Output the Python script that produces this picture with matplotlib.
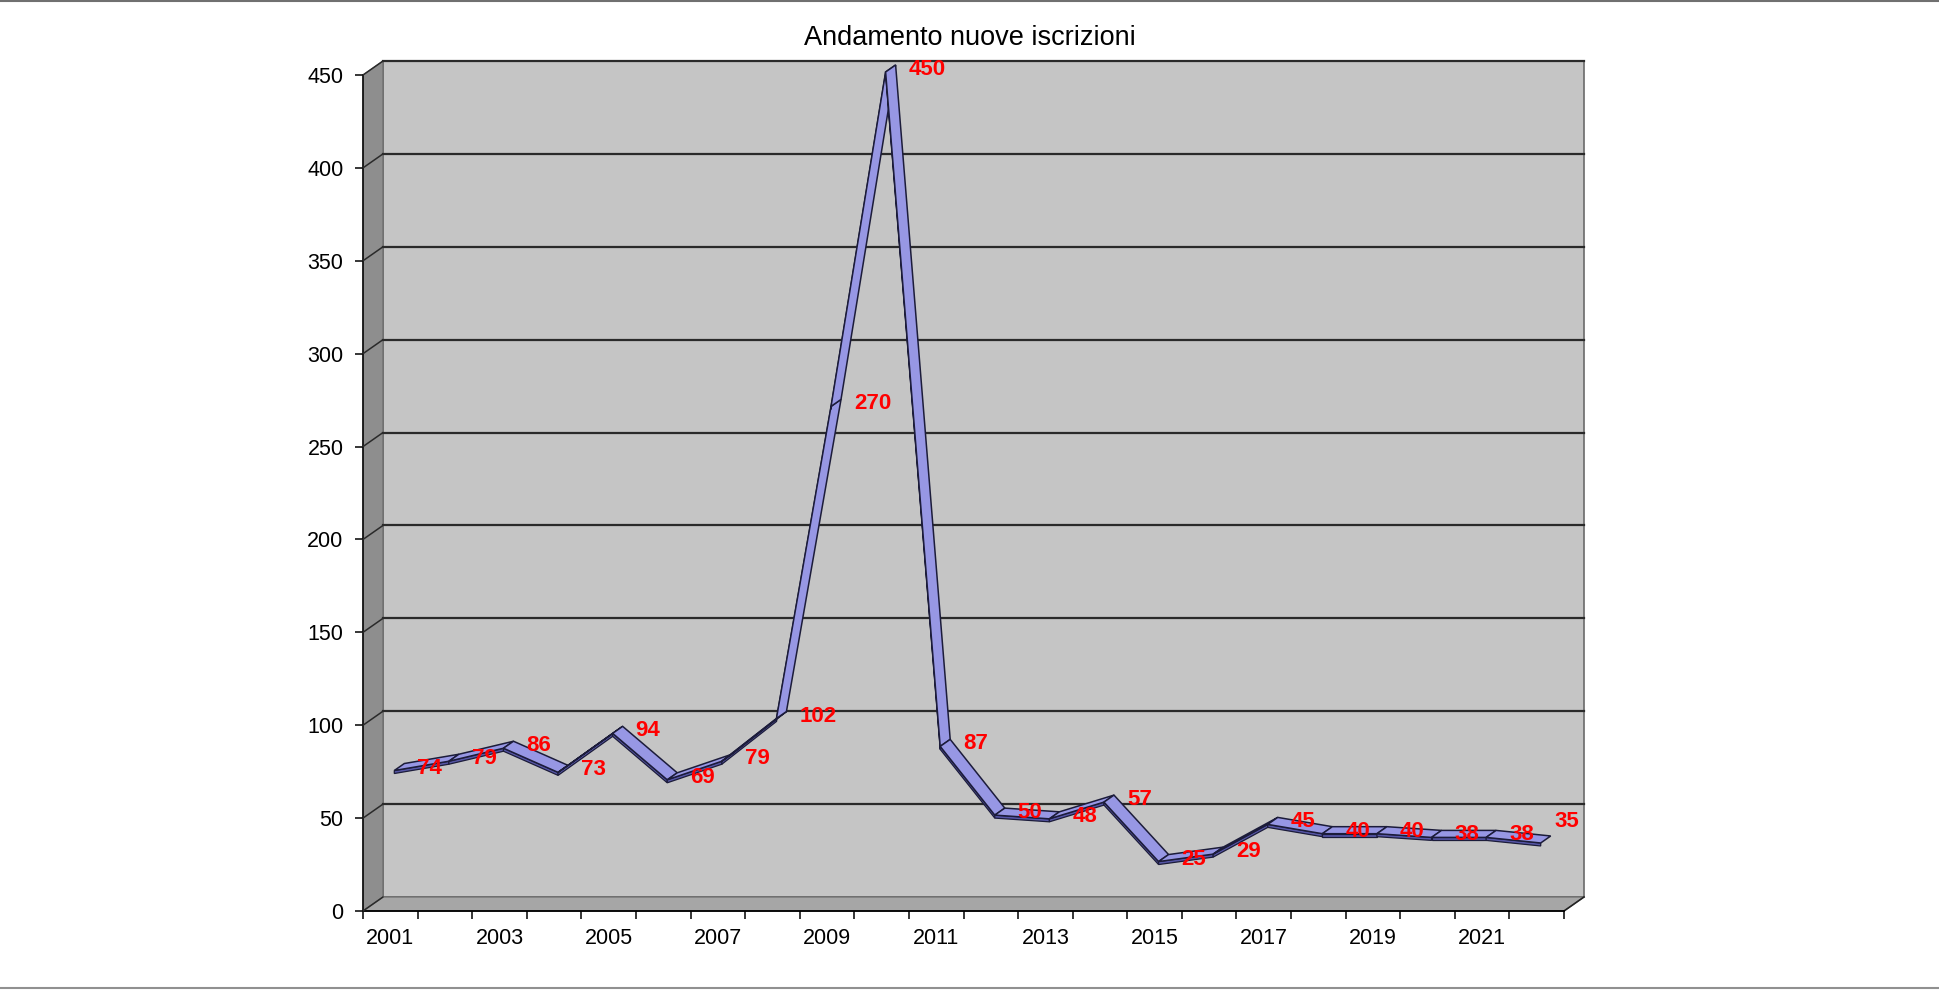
import matplotlib
matplotlib.use('Agg')
import matplotlib.pyplot as plt
import numpy as np
from matplotlib.patches import Polygon, Rectangle
from matplotlib.lines import Line2D
from matplotlib.transforms import ScaledTranslation, IdentityTransform

plt.rcParams['font.family'] = ['Liberation Sans', 'DejaVu Sans']

# data
years = [str(y) for y in range(2001, 2023)]
iscrizioni = [74, 79, 86, 73, 94, 69, 79, 102, 270, 450, 87,
              50, 48, 57, 25, 29, 45, 40, 40, 38, 38, 35]
yticks = list(range(0, 451, 50))
title = 'Andamento nuove iscrizioni'

fig = plt.figure(figsize=(19.39, 9.9), dpi=100)
ax = fig.add_axes([363 / 1939, 1 - 911 / 990, (1564 - 363) / 1939, (911 - 75) / 990])
ax.set_xlim(0, len(years))
ax.set_ylim(0, 450)
ax.patch.set_visible(False)

# 3d depth of the walls, in pixels
DX, DY = 20, 14
depth = ScaledTranslation(DX / 100, DY / 100, fig.dpi_scale_trans)
ident = IdentityTransform()

# back wall
ax.add_patch(Rectangle((0, 0), 1, 1, transform=ax.transAxes + depth,
                       facecolor='#c5c5c5', edgecolor='#6a6a6a', lw=1.2,
                       zorder=0, clip_on=False))

# left wall and floor
p00 = ax.transAxes.transform((0, 0))
p01 = ax.transAxes.transform((0, 1))
p10 = ax.transAxes.transform((1, 0))
off = np.array([DX, DY])
ax.add_patch(Polygon([p00, p01, p01 + off, p00 + off], closed=True,
                     transform=ident, facecolor='#8e8e8e',
                     edgecolor='#6a6a6a', lw=0.8, zorder=0.5, clip_on=False))
ax.add_patch(Polygon([p00, p10, p10 + off, p00 + off], closed=True,
                     transform=ident, facecolor='#a6a6a6',
                     edgecolor='#6a6a6a', lw=0.8, zorder=0.5, clip_on=False))
ax.add_line(Line2D([p10[0], p10[0] + DX], [p10[1], p10[1] + DY],
                   transform=ident, color='#222222', lw=1.2, clip_on=False))

# gridlines on back wall and diagonals on side wall
for v in yticks:
    if v > 0:
        ax.plot([0, 1], [v, v], transform=ax.get_yaxis_transform() + depth,
                color='#2a2a2a', lw=1.6, zorder=1, clip_on=False)
    ax.annotate('', xy=(0, v), xycoords=ax.get_yaxis_transform(),
                xytext=(DX * 0.72, DY * 0.72), textcoords='offset points',
                arrowprops=dict(arrowstyle='-', color='#2a2a2a', lw=1.1,
                                shrinkA=0, shrinkB=0))

# ribbon line
x = np.arange(len(years)) + 0.5
pts = ax.transData.transform(np.column_stack([x, iscrizioni]))
front = np.array([4.0, 3.0])
back = np.array([14.0, 10.0])
thick = np.array([0.0, 3.0])
for i in range(len(pts) - 1):
    a, b = pts[i], pts[i + 1]
    # lower face (thickness)
    ax.add_patch(Polygon([a + front, b + front, b + front - thick, a + front - thick],
                         closed=True, transform=ident, facecolor='#5656a6',
                         edgecolor='#1c1c3a', lw=0.9, zorder=3, clip_on=False))
    ax.add_patch(Polygon([a + front, b + front, b + back, a + back], closed=True,
                         transform=ident, facecolor='#9797e4',
                         edgecolor='#1c1c3a', lw=1.1, zorder=3, clip_on=False))

# data labels
for i, v in enumerate(iscrizioni):
    dx, dy = 27, 5.5
    if i == len(iscrizioni) - 1:
        dx, dy = 18, 24
    ax.annotate(str(v), xy=(x[i], v), xytext=(dx * 0.72, dy * 0.72),
                textcoords='offset points', ha='left', va='center',
                color='#ff0000', fontweight='bold', fontsize=16, zorder=5,
                annotation_clip=False)

# axes
for s in ['top', 'right']:
    ax.spines[s].set_visible(False)
ax.spines['left'].set_color('#000000')
ax.spines['bottom'].set_color('#000000')
ax.spines['left'].set_linewidth(1.1)
ax.spines['bottom'].set_linewidth(1.3)
ax.set_yticks(yticks)
ax.set_xticks(np.arange(len(years) + 1))
ax.set_xticklabels([])
ax.set_xticks(x[::2], minor=True)
ax.set_xticklabels(years[::2], minor=True)
ax.tick_params(axis='x', which='major', length=6, width=1.1, color='#000000')
ax.tick_params(axis='x', which='minor', length=0, pad=12, labelsize=15.5)
ax.tick_params(axis='y', length=6, width=1.1, pad=8, labelsize=15.5)

fig.text(0.5, 1 - 38 / 990, title, ha='center', va='center', fontsize=19.5)

# outer frame lines
fig.add_artist(Line2D([0, 1], [1 - 1 / 990, 1 - 1 / 990], transform=fig.transFigure,
                      color='#707070', lw=1.5))
fig.add_artist(Line2D([0, 1], [1 - 988 / 990, 1 - 988 / 990], transform=fig.transFigure,
                      color='#909090', lw=1.5))

fig.savefig('out.png', dpi=100)
